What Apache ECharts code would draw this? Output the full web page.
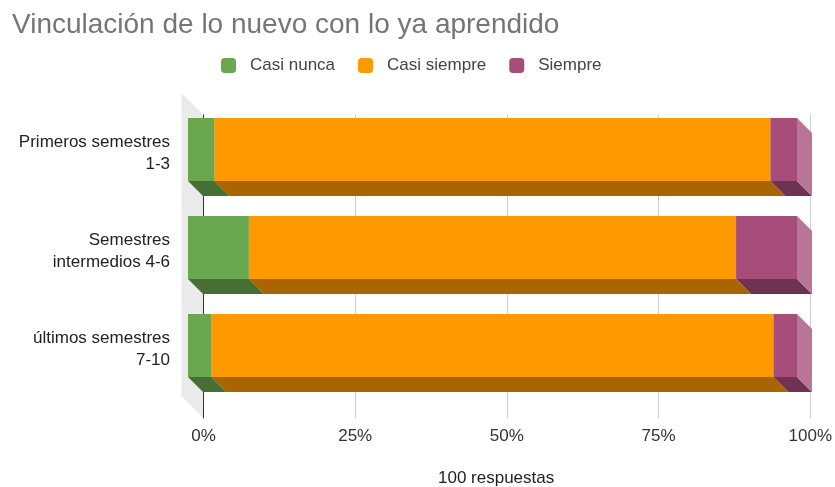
<!DOCTYPE html>
<html>
<head>
<meta charset="utf-8">
<script src="https://cdn.jsdelivr.net/npm/echarts@6/dist/echarts.min.js"></script>
<style>
  html, body { margin: 0; padding: 0; background: #fff; }
  #chart { width: 835px; height: 487px; }
</style>
</head>
<body>
<div id="chart"></div>
<script>
// Cohorts (top to bottom) and share of answers per option, in percent
const categories = ['Primeros semestres\n1-3', 'Semestres\nintermedios 4-6', 'últimos semestres\n7-10'];
const seriesNames = ['Casi nunca', 'Casi siempre', 'Siempre'];
const casiNunca = [4.35, 10, 3.85];
const casiSiempre = [91.3, 80, 92.3];
const siempre = [4.35, 10, 3.85];
const xTicks = [0, 25, 50, 75, 100];

const values = [casiNunca, casiSiempre, siempre];
const faceColors = [
  { front: '#6aa84f', bottom: '#476f35', side: '#8cbc77' },
  { front: '#ff9900', bottom: '#a86500', side: '#ffb34d' },
  { front: '#a64d79', bottom: '#6f3352', side: '#b87597' }
];

const FONT = '"Liberation Sans", Arial, sans-serif';
const DEPTH = 15;      // extrusion of each bar, px
const WALL = 22;       // depth of the left wall, px
const BAR_RATIO = 0.643;

// stacked [start, end, categoryIndex] for each option
const stacked = values.map((arr, s) => arr.map((v, i) => {
  let start = 0;
  for (let k = 0; k < s; k++) start += values[k][i];
  return [start, start + v, i];
}));

function barRenderer(s) {
  const c = faceColors[s];
  return function (params, api) {
    const cat = api.value(2);
    const p0 = api.coord([api.value(0), cat]);
    const p1 = api.coord([api.value(1), cat]);
    const band = api.size([0, 1])[1];
    const h = band * BAR_RATIO;
    const x0 = p0[0], x1 = p1[0];
    const yT = p0[1] - h / 2, yB = p0[1] + h / 2;
    const D = DEPTH;
    return {
      type: 'group',
      children: [
        { type: 'polygon', shape: { points: [[x0, yB], [x1, yB], [x1 + D, yB + D], [x0 + D, yB + D]] },
          style: { fill: c.bottom } },
        { type: 'polygon', shape: { points: [[x1, yT], [x1 + D, yT + D], [x1 + D, yB + D], [x1, yB]] },
          style: { fill: c.side } },
        { type: 'rect', shape: { x: x0, y: yT, width: x1 - x0, height: yB - yT },
          style: { fill: c.front } }
      ]
    };
  };
}

function wallRenderer(params) {
  const cs = params.coordSys;
  const x = cs.x, y = cs.y, h = cs.height;
  return {
    type: 'polygon',
    shape: { points: [[x - WALL, y - WALL], [x, y], [x, y + h], [x - WALL, y + h - WALL]] },
    style: { fill: '#ebebeb' }
  };
}

const chart = echarts.init(document.getElementById('chart'), null, { renderer: 'canvas' });

const option = {
  animation: false,
  backgroundColor: '#ffffff',
  title: [
    { text: 'Vinculación de lo nuevo con lo ya aprendido', left: 7, top: 6,
      textStyle: { fontFamily: FONT, fontSize: 28, fontWeight: 'normal', color: '#757575' } },
    { text: '100 respuestas', left: 433, top: 465,
      textStyle: { fontFamily: FONT, fontSize: 17, fontWeight: 'normal', color: '#222' } }
  ],
  legend: {
    data: seriesNames,
    left: 216, top: 52,
    icon: 'roundRect',
    itemWidth: 15, itemHeight: 15, itemGap: 23,
    textStyle: { fontFamily: FONT, fontSize: 17, color: '#444', padding: [0, 0, 0, 9] }
  },
  grid: [
    // front plane of the bars
    { left: 188, right: 38, top: 100.5, height: 294 },
    // back plane: gridlines and value axis
    { left: 203.5, right: 22.5, top: 115, bottom: 69 },
    // category labels, set slightly lower than the bar faces
    { left: 188, right: 38, top: 104.5, height: 294 }
  ],
  xAxis: [
    { gridIndex: 0, type: 'value', min: 0, max: 100, show: false },
    { gridIndex: 1, type: 'value', min: xTicks[0], max: xTicks[xTicks.length - 1], interval: 25,
      axisLine: { show: false }, axisTick: { show: false },
      splitLine: { show: true, lineStyle: { color: '#cccccc', width: 1 } },
      axisLabel: { margin: 10, fontFamily: FONT, fontSize: 17, color: '#333', formatter: '{value}%' } },
    { gridIndex: 2, type: 'value', min: 0, max: 100, show: false }
  ],
  yAxis: [
    { gridIndex: 0, type: 'category', data: categories, inverse: true, show: false },
    { gridIndex: 1, type: 'value', min: 0, max: 1,
      axisLine: { show: true, lineStyle: { color: '#333333', width: 1 } },
      axisTick: { show: false }, axisLabel: { show: false }, splitLine: { show: false } },
    { gridIndex: 2, type: 'category', data: categories, inverse: true,
      axisLine: { show: false }, axisTick: { show: false }, splitLine: { show: false },
      axisLabel: { margin: 18, fontFamily: FONT, fontSize: 17, color: '#222', lineHeight: 22, align: 'right' } }
  ],
  series: [
    { type: 'custom', name: 'wall', xAxisIndex: 1, yAxisIndex: 1, z: -1, silent: true,
      renderItem: wallRenderer, data: [[0, 0]] }
  ].concat(seriesNames.map((name, s) => ({
    type: 'custom',
    name: name,
    xAxisIndex: 0, yAxisIndex: 0,
    itemStyle: { color: faceColors[s].front },
    encode: { x: [0, 1], y: 2 },
    renderItem: barRenderer(s),
    data: stacked[s]
  })))
};

chart.setOption(option);
</script>
</body>
</html>
